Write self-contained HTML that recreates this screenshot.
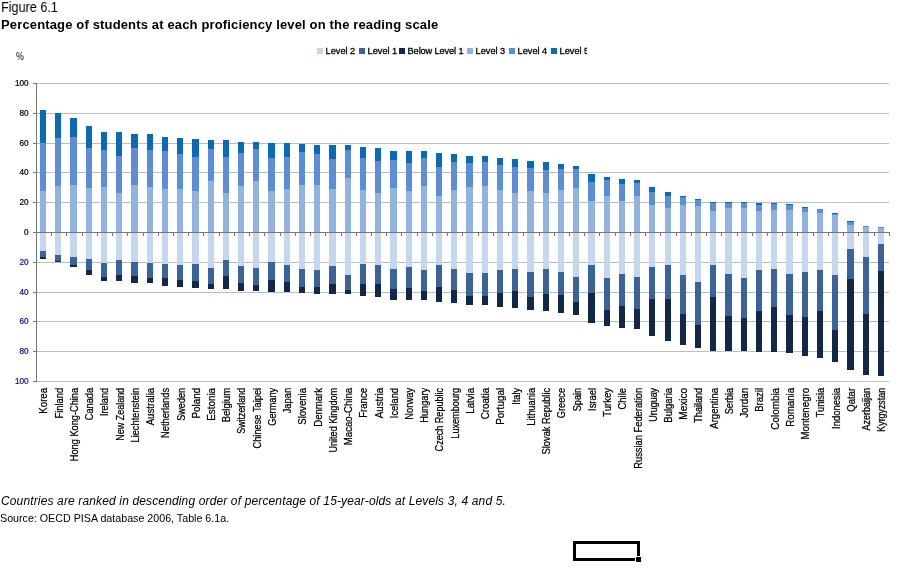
<!DOCTYPE html>
<html><head><meta charset="utf-8"><style>
html,body{margin:0;padding:0;background:#fff;}
body{width:897px;height:568px;position:relative;overflow:hidden;font-family:"Liberation Sans",sans-serif;color:#000;}
.t{position:absolute;white-space:nowrap;line-height:1;will-change:transform;}
svg{position:absolute;left:0;top:0;will-change:transform;}
svg text{font-family:"Liberation Sans",sans-serif;}
</style></head><body>
<div class="t" style="left:1.2px;top:0.4px;font-size:14.5px;transform:scaleX(0.87);transform-origin:0 0;">Figure 6.1</div>
<div class="t" style="left:1px;top:17.8px;font-size:13px;font-weight:bold;letter-spacing:0.15px;">Percentage of students at each proficiency level on the reading scale</div>
<div class="t" style="left:16px;top:52px;font-size:10px;transform:scaleX(0.85);transform-origin:0 0;">%</div>
<svg width="897" height="568" viewBox="0 0 897 568">
<rect x="36" y="83" width="853" height="1" fill="#BDBDBD"/>
<rect x="36" y="113" width="853" height="1" fill="#BDBDBD"/>
<rect x="36" y="143" width="853" height="1" fill="#BDBDBD"/>
<rect x="36" y="172" width="853" height="1" fill="#BDBDBD"/>
<rect x="36" y="202" width="853" height="1" fill="#BDBDBD"/>
<rect x="36" y="262" width="853" height="1" fill="#BDBDBD"/>
<rect x="36" y="292" width="853" height="1" fill="#BDBDBD"/>
<rect x="36" y="321" width="853" height="1" fill="#BDBDBD"/>
<rect x="36" y="351" width="853" height="1" fill="#BDBDBD"/>
<rect x="36" y="381" width="853" height="1" fill="#BDBDBD"/>
<rect x="33" y="83" width="3" height="1" fill="#767676"/>
<rect x="33" y="113" width="3" height="1" fill="#767676"/>
<rect x="33" y="143" width="3" height="1" fill="#767676"/>
<rect x="33" y="172" width="3" height="1" fill="#767676"/>
<rect x="33" y="202" width="3" height="1" fill="#767676"/>
<rect x="33" y="262" width="3" height="1" fill="#767676"/>
<rect x="33" y="292" width="3" height="1" fill="#767676"/>
<rect x="33" y="321" width="3" height="1" fill="#767676"/>
<rect x="33" y="351" width="3" height="1" fill="#767676"/>
<rect x="33" y="381" width="3" height="1" fill="#767676"/>
<rect x="33" y="232" width="3" height="1" fill="#767676"/>
<rect x="40" y="191" width="6" height="41" fill="#90B3E0"/>
<rect x="40" y="143" width="6" height="48" fill="#5B8ED6"/>
<rect x="40" y="110" width="6" height="33" fill="#0A6AB8"/>
<rect x="40" y="232" width="6" height="19" fill="#C5D7EF"/>
<rect x="40" y="251" width="6" height="6" fill="#3A6399"/>
<rect x="40" y="257" width="6" height="2" fill="#112848"/>
<rect x="55" y="186" width="6" height="46" fill="#90B3E0"/>
<rect x="55" y="138" width="6" height="48" fill="#5B8ED6"/>
<rect x="55" y="113" width="6" height="25" fill="#0A6AB8"/>
<rect x="55" y="232" width="6" height="23" fill="#C5D7EF"/>
<rect x="55" y="255" width="6" height="6" fill="#3A6399"/>
<rect x="55" y="261" width="6" height="1" fill="#112848"/>
<rect x="70" y="185" width="7" height="47" fill="#90B3E0"/>
<rect x="70" y="137" width="7" height="48" fill="#5B8ED6"/>
<rect x="70" y="118" width="7" height="19" fill="#0A6AB8"/>
<rect x="70" y="232" width="7" height="25" fill="#C5D7EF"/>
<rect x="70" y="257" width="7" height="8" fill="#3A6399"/>
<rect x="70" y="265" width="7" height="2" fill="#112848"/>
<rect x="86" y="188" width="6" height="44" fill="#90B3E0"/>
<rect x="86" y="148" width="6" height="40" fill="#5B8ED6"/>
<rect x="86" y="126" width="6" height="22" fill="#0A6AB8"/>
<rect x="86" y="232" width="6" height="27" fill="#C5D7EF"/>
<rect x="86" y="259" width="6" height="11" fill="#3A6399"/>
<rect x="86" y="270" width="6" height="5" fill="#112848"/>
<rect x="101" y="187" width="6" height="45" fill="#90B3E0"/>
<rect x="101" y="150" width="6" height="37" fill="#5B8ED6"/>
<rect x="101" y="132" width="6" height="18" fill="#0A6AB8"/>
<rect x="101" y="232" width="6" height="31" fill="#C5D7EF"/>
<rect x="101" y="263" width="6" height="14" fill="#3A6399"/>
<rect x="101" y="277" width="6" height="4" fill="#112848"/>
<rect x="116" y="193" width="6" height="39" fill="#90B3E0"/>
<rect x="116" y="156" width="6" height="37" fill="#5B8ED6"/>
<rect x="116" y="132" width="6" height="24" fill="#0A6AB8"/>
<rect x="116" y="232" width="6" height="28" fill="#C5D7EF"/>
<rect x="116" y="260" width="6" height="15" fill="#3A6399"/>
<rect x="116" y="275" width="6" height="6" fill="#112848"/>
<rect x="131" y="185" width="7" height="47" fill="#90B3E0"/>
<rect x="131" y="148" width="7" height="37" fill="#5B8ED6"/>
<rect x="131" y="134" width="7" height="14" fill="#0A6AB8"/>
<rect x="131" y="232" width="7" height="30" fill="#C5D7EF"/>
<rect x="131" y="262" width="7" height="14" fill="#3A6399"/>
<rect x="131" y="276" width="7" height="7" fill="#112848"/>
<rect x="147" y="187" width="6" height="45" fill="#90B3E0"/>
<rect x="147" y="150" width="6" height="37" fill="#5B8ED6"/>
<rect x="147" y="134" width="6" height="16" fill="#0A6AB8"/>
<rect x="147" y="232" width="6" height="31" fill="#C5D7EF"/>
<rect x="147" y="263" width="6" height="15" fill="#3A6399"/>
<rect x="147" y="278" width="6" height="5" fill="#112848"/>
<rect x="162" y="189" width="6" height="43" fill="#90B3E0"/>
<rect x="162" y="151" width="6" height="38" fill="#5B8ED6"/>
<rect x="162" y="137" width="6" height="14" fill="#0A6AB8"/>
<rect x="162" y="232" width="6" height="32" fill="#C5D7EF"/>
<rect x="162" y="264" width="6" height="14" fill="#3A6399"/>
<rect x="162" y="278" width="6" height="8" fill="#112848"/>
<rect x="177" y="189" width="6" height="43" fill="#90B3E0"/>
<rect x="177" y="154" width="6" height="35" fill="#5B8ED6"/>
<rect x="177" y="138" width="6" height="16" fill="#0A6AB8"/>
<rect x="177" y="232" width="6" height="33" fill="#C5D7EF"/>
<rect x="177" y="265" width="6" height="15" fill="#3A6399"/>
<rect x="177" y="280" width="6" height="7" fill="#112848"/>
<rect x="192" y="191" width="7" height="41" fill="#90B3E0"/>
<rect x="192" y="157" width="7" height="34" fill="#5B8ED6"/>
<rect x="192" y="139" width="7" height="18" fill="#0A6AB8"/>
<rect x="192" y="232" width="7" height="32" fill="#C5D7EF"/>
<rect x="192" y="264" width="7" height="17" fill="#3A6399"/>
<rect x="192" y="281" width="7" height="7" fill="#112848"/>
<rect x="208" y="181" width="6" height="51" fill="#90B3E0"/>
<rect x="208" y="149" width="6" height="32" fill="#5B8ED6"/>
<rect x="208" y="140" width="6" height="9" fill="#0A6AB8"/>
<rect x="208" y="232" width="6" height="36" fill="#C5D7EF"/>
<rect x="208" y="268" width="6" height="16" fill="#3A6399"/>
<rect x="208" y="284" width="6" height="5" fill="#112848"/>
<rect x="223" y="193" width="6" height="39" fill="#90B3E0"/>
<rect x="223" y="157" width="6" height="36" fill="#5B8ED6"/>
<rect x="223" y="140" width="6" height="17" fill="#0A6AB8"/>
<rect x="223" y="232" width="6" height="28" fill="#C5D7EF"/>
<rect x="223" y="260" width="6" height="16" fill="#3A6399"/>
<rect x="223" y="276" width="6" height="13" fill="#112848"/>
<rect x="238" y="186" width="6" height="46" fill="#90B3E0"/>
<rect x="238" y="153" width="6" height="33" fill="#5B8ED6"/>
<rect x="238" y="142" width="6" height="11" fill="#0A6AB8"/>
<rect x="238" y="232" width="6" height="34" fill="#C5D7EF"/>
<rect x="238" y="266" width="6" height="17" fill="#3A6399"/>
<rect x="238" y="283" width="6" height="8" fill="#112848"/>
<rect x="253" y="181" width="6" height="51" fill="#90B3E0"/>
<rect x="253" y="149" width="6" height="32" fill="#5B8ED6"/>
<rect x="253" y="142" width="6" height="7" fill="#0A6AB8"/>
<rect x="253" y="232" width="6" height="36" fill="#C5D7EF"/>
<rect x="253" y="268" width="6" height="17" fill="#3A6399"/>
<rect x="253" y="285" width="6" height="6" fill="#112848"/>
<rect x="268" y="191" width="7" height="41" fill="#90B3E0"/>
<rect x="268" y="158" width="7" height="33" fill="#5B8ED6"/>
<rect x="268" y="143" width="7" height="15" fill="#0A6AB8"/>
<rect x="268" y="232" width="7" height="30" fill="#C5D7EF"/>
<rect x="268" y="262" width="7" height="18" fill="#3A6399"/>
<rect x="268" y="280" width="7" height="12" fill="#112848"/>
<rect x="284" y="189" width="6" height="43" fill="#90B3E0"/>
<rect x="284" y="157" width="6" height="32" fill="#5B8ED6"/>
<rect x="284" y="143" width="6" height="14" fill="#0A6AB8"/>
<rect x="284" y="232" width="6" height="33" fill="#C5D7EF"/>
<rect x="284" y="265" width="6" height="17" fill="#3A6399"/>
<rect x="284" y="282" width="6" height="10" fill="#112848"/>
<rect x="299" y="185" width="6" height="47" fill="#90B3E0"/>
<rect x="299" y="152" width="6" height="33" fill="#5B8ED6"/>
<rect x="299" y="144" width="6" height="8" fill="#0A6AB8"/>
<rect x="299" y="232" width="6" height="37" fill="#C5D7EF"/>
<rect x="299" y="269" width="6" height="18" fill="#3A6399"/>
<rect x="299" y="287" width="6" height="6" fill="#112848"/>
<rect x="314" y="185" width="6" height="47" fill="#90B3E0"/>
<rect x="314" y="154" width="6" height="31" fill="#5B8ED6"/>
<rect x="314" y="145" width="6" height="9" fill="#0A6AB8"/>
<rect x="314" y="232" width="6" height="38" fill="#C5D7EF"/>
<rect x="314" y="270" width="6" height="17" fill="#3A6399"/>
<rect x="314" y="287" width="6" height="7" fill="#112848"/>
<rect x="329" y="189" width="7" height="43" fill="#90B3E0"/>
<rect x="329" y="159" width="7" height="30" fill="#5B8ED6"/>
<rect x="329" y="145" width="7" height="14" fill="#0A6AB8"/>
<rect x="329" y="232" width="7" height="34" fill="#C5D7EF"/>
<rect x="329" y="266" width="7" height="18" fill="#3A6399"/>
<rect x="329" y="284" width="7" height="10" fill="#112848"/>
<rect x="345" y="178" width="6" height="54" fill="#90B3E0"/>
<rect x="345" y="150" width="6" height="28" fill="#5B8ED6"/>
<rect x="345" y="145" width="6" height="5" fill="#0A6AB8"/>
<rect x="345" y="232" width="6" height="43" fill="#C5D7EF"/>
<rect x="345" y="275" width="6" height="15" fill="#3A6399"/>
<rect x="345" y="290" width="6" height="4" fill="#112848"/>
<rect x="360" y="190" width="6" height="42" fill="#90B3E0"/>
<rect x="360" y="158" width="6" height="32" fill="#5B8ED6"/>
<rect x="360" y="147" width="6" height="11" fill="#0A6AB8"/>
<rect x="360" y="232" width="6" height="32" fill="#C5D7EF"/>
<rect x="360" y="264" width="6" height="20" fill="#3A6399"/>
<rect x="360" y="284" width="6" height="12" fill="#112848"/>
<rect x="375" y="193" width="6" height="39" fill="#90B3E0"/>
<rect x="375" y="161" width="6" height="32" fill="#5B8ED6"/>
<rect x="375" y="148" width="6" height="13" fill="#0A6AB8"/>
<rect x="375" y="232" width="6" height="33" fill="#C5D7EF"/>
<rect x="375" y="265" width="6" height="19" fill="#3A6399"/>
<rect x="375" y="284" width="6" height="13" fill="#112848"/>
<rect x="390" y="188" width="7" height="44" fill="#90B3E0"/>
<rect x="390" y="160" width="7" height="28" fill="#5B8ED6"/>
<rect x="390" y="151" width="7" height="9" fill="#0A6AB8"/>
<rect x="390" y="232" width="7" height="37" fill="#C5D7EF"/>
<rect x="390" y="269" width="7" height="20" fill="#3A6399"/>
<rect x="390" y="289" width="7" height="11" fill="#112848"/>
<rect x="406" y="191" width="6" height="41" fill="#90B3E0"/>
<rect x="406" y="163" width="6" height="28" fill="#5B8ED6"/>
<rect x="406" y="151" width="6" height="12" fill="#0A6AB8"/>
<rect x="406" y="232" width="6" height="35" fill="#C5D7EF"/>
<rect x="406" y="267" width="6" height="21" fill="#3A6399"/>
<rect x="406" y="288" width="6" height="12" fill="#112848"/>
<rect x="421" y="186" width="6" height="46" fill="#90B3E0"/>
<rect x="421" y="158" width="6" height="28" fill="#5B8ED6"/>
<rect x="421" y="151" width="6" height="7" fill="#0A6AB8"/>
<rect x="421" y="232" width="6" height="38" fill="#C5D7EF"/>
<rect x="421" y="270" width="6" height="21" fill="#3A6399"/>
<rect x="421" y="291" width="6" height="9" fill="#112848"/>
<rect x="436" y="196" width="6" height="36" fill="#90B3E0"/>
<rect x="436" y="167" width="6" height="29" fill="#5B8ED6"/>
<rect x="436" y="153" width="6" height="14" fill="#0A6AB8"/>
<rect x="436" y="232" width="6" height="33" fill="#C5D7EF"/>
<rect x="436" y="265" width="6" height="22" fill="#3A6399"/>
<rect x="436" y="287" width="6" height="15" fill="#112848"/>
<rect x="451" y="190" width="6" height="42" fill="#90B3E0"/>
<rect x="451" y="162" width="6" height="28" fill="#5B8ED6"/>
<rect x="451" y="154" width="6" height="8" fill="#0A6AB8"/>
<rect x="451" y="232" width="6" height="37" fill="#C5D7EF"/>
<rect x="451" y="269" width="6" height="21" fill="#3A6399"/>
<rect x="451" y="290" width="6" height="13" fill="#112848"/>
<rect x="466" y="187" width="7" height="45" fill="#90B3E0"/>
<rect x="466" y="163" width="7" height="24" fill="#5B8ED6"/>
<rect x="466" y="156" width="7" height="7" fill="#0A6AB8"/>
<rect x="466" y="232" width="7" height="41" fill="#C5D7EF"/>
<rect x="466" y="273" width="7" height="23" fill="#3A6399"/>
<rect x="466" y="296" width="7" height="9" fill="#112848"/>
<rect x="482" y="186" width="6" height="46" fill="#90B3E0"/>
<rect x="482" y="162" width="6" height="24" fill="#5B8ED6"/>
<rect x="482" y="156" width="6" height="6" fill="#0A6AB8"/>
<rect x="482" y="232" width="6" height="41" fill="#C5D7EF"/>
<rect x="482" y="273" width="6" height="23" fill="#3A6399"/>
<rect x="482" y="296" width="6" height="9" fill="#112848"/>
<rect x="497" y="190" width="6" height="42" fill="#90B3E0"/>
<rect x="497" y="165" width="6" height="25" fill="#5B8ED6"/>
<rect x="497" y="158" width="6" height="7" fill="#0A6AB8"/>
<rect x="497" y="232" width="6" height="38" fill="#C5D7EF"/>
<rect x="497" y="270" width="6" height="23" fill="#3A6399"/>
<rect x="497" y="293" width="6" height="14" fill="#112848"/>
<rect x="512" y="193" width="6" height="39" fill="#90B3E0"/>
<rect x="512" y="167" width="6" height="26" fill="#5B8ED6"/>
<rect x="512" y="159" width="6" height="8" fill="#0A6AB8"/>
<rect x="512" y="232" width="6" height="37" fill="#C5D7EF"/>
<rect x="512" y="269" width="6" height="22" fill="#3A6399"/>
<rect x="512" y="291" width="6" height="17" fill="#112848"/>
<rect x="527" y="191" width="7" height="41" fill="#90B3E0"/>
<rect x="527" y="168" width="7" height="23" fill="#5B8ED6"/>
<rect x="527" y="161" width="7" height="7" fill="#0A6AB8"/>
<rect x="527" y="232" width="7" height="40" fill="#C5D7EF"/>
<rect x="527" y="272" width="7" height="25" fill="#3A6399"/>
<rect x="527" y="297" width="7" height="13" fill="#112848"/>
<rect x="543" y="193" width="6" height="39" fill="#90B3E0"/>
<rect x="543" y="170" width="6" height="23" fill="#5B8ED6"/>
<rect x="543" y="162" width="6" height="8" fill="#0A6AB8"/>
<rect x="543" y="232" width="6" height="37" fill="#C5D7EF"/>
<rect x="543" y="269" width="6" height="25" fill="#3A6399"/>
<rect x="543" y="294" width="6" height="17" fill="#112848"/>
<rect x="558" y="190" width="6" height="42" fill="#90B3E0"/>
<rect x="558" y="169" width="6" height="21" fill="#5B8ED6"/>
<rect x="558" y="164" width="6" height="5" fill="#0A6AB8"/>
<rect x="558" y="232" width="6" height="40" fill="#C5D7EF"/>
<rect x="558" y="272" width="6" height="23" fill="#3A6399"/>
<rect x="558" y="295" width="6" height="18" fill="#112848"/>
<rect x="573" y="188" width="6" height="44" fill="#90B3E0"/>
<rect x="573" y="169" width="6" height="19" fill="#5B8ED6"/>
<rect x="573" y="166" width="6" height="3" fill="#0A6AB8"/>
<rect x="573" y="232" width="6" height="45" fill="#C5D7EF"/>
<rect x="573" y="277" width="6" height="25" fill="#3A6399"/>
<rect x="573" y="302" width="6" height="13" fill="#112848"/>
<rect x="588" y="201" width="7" height="31" fill="#90B3E0"/>
<rect x="588" y="182" width="7" height="19" fill="#5B8ED6"/>
<rect x="588" y="174" width="7" height="8" fill="#0A6AB8"/>
<rect x="588" y="232" width="7" height="33" fill="#C5D7EF"/>
<rect x="588" y="265" width="7" height="28" fill="#3A6399"/>
<rect x="588" y="293" width="7" height="30" fill="#112848"/>
<rect x="604" y="196" width="6" height="36" fill="#90B3E0"/>
<rect x="604" y="180" width="6" height="16" fill="#5B8ED6"/>
<rect x="604" y="177" width="6" height="3" fill="#0A6AB8"/>
<rect x="604" y="232" width="6" height="46" fill="#C5D7EF"/>
<rect x="604" y="278" width="6" height="32" fill="#3A6399"/>
<rect x="604" y="310" width="6" height="16" fill="#112848"/>
<rect x="619" y="201" width="6" height="31" fill="#90B3E0"/>
<rect x="619" y="184" width="6" height="17" fill="#5B8ED6"/>
<rect x="619" y="179" width="6" height="5" fill="#0A6AB8"/>
<rect x="619" y="232" width="6" height="42" fill="#C5D7EF"/>
<rect x="619" y="274" width="6" height="32" fill="#3A6399"/>
<rect x="619" y="306" width="6" height="22" fill="#112848"/>
<rect x="634" y="196" width="6" height="36" fill="#90B3E0"/>
<rect x="634" y="183" width="6" height="13" fill="#5B8ED6"/>
<rect x="634" y="180" width="6" height="3" fill="#0A6AB8"/>
<rect x="634" y="232" width="6" height="45" fill="#C5D7EF"/>
<rect x="634" y="277" width="6" height="32" fill="#3A6399"/>
<rect x="634" y="309" width="6" height="20" fill="#112848"/>
<rect x="649" y="205" width="6" height="27" fill="#90B3E0"/>
<rect x="649" y="192" width="6" height="13" fill="#5B8ED6"/>
<rect x="649" y="187" width="6" height="5" fill="#0A6AB8"/>
<rect x="649" y="232" width="6" height="35" fill="#C5D7EF"/>
<rect x="649" y="267" width="6" height="32" fill="#3A6399"/>
<rect x="649" y="299" width="6" height="37" fill="#112848"/>
<rect x="665" y="208" width="6" height="24" fill="#90B3E0"/>
<rect x="665" y="196" width="6" height="12" fill="#5B8ED6"/>
<rect x="665" y="192" width="6" height="4" fill="#0A6AB8"/>
<rect x="665" y="232" width="6" height="33" fill="#C5D7EF"/>
<rect x="665" y="265" width="6" height="34" fill="#3A6399"/>
<rect x="665" y="299" width="6" height="42" fill="#112848"/>
<rect x="680" y="205" width="6" height="27" fill="#90B3E0"/>
<rect x="680" y="197" width="6" height="8" fill="#5B8ED6"/>
<rect x="680" y="196" width="6" height="1" fill="#0A6AB8"/>
<rect x="680" y="232" width="6" height="43" fill="#C5D7EF"/>
<rect x="680" y="275" width="6" height="39" fill="#3A6399"/>
<rect x="680" y="314" width="6" height="31" fill="#112848"/>
<rect x="695" y="206" width="6" height="26" fill="#90B3E0"/>
<rect x="695" y="200" width="6" height="6" fill="#5B8ED6"/>
<rect x="695" y="199" width="6" height="1" fill="#0A6AB8"/>
<rect x="695" y="232" width="6" height="50" fill="#C5D7EF"/>
<rect x="695" y="282" width="6" height="43" fill="#3A6399"/>
<rect x="695" y="325" width="6" height="23" fill="#112848"/>
<rect x="710" y="211" width="6" height="21" fill="#90B3E0"/>
<rect x="710" y="203" width="6" height="8" fill="#5B8ED6"/>
<rect x="710" y="202" width="6" height="1" fill="#0A6AB8"/>
<rect x="710" y="232" width="6" height="33" fill="#C5D7EF"/>
<rect x="710" y="265" width="6" height="32" fill="#3A6399"/>
<rect x="710" y="297" width="6" height="54" fill="#112848"/>
<rect x="725" y="208" width="7" height="24" fill="#90B3E0"/>
<rect x="725" y="203" width="7" height="5" fill="#5B8ED6"/>
<rect x="725" y="202" width="7" height="1" fill="#0A6AB8"/>
<rect x="725" y="232" width="7" height="42" fill="#C5D7EF"/>
<rect x="725" y="274" width="7" height="42" fill="#3A6399"/>
<rect x="725" y="316" width="7" height="35" fill="#112848"/>
<rect x="741" y="208" width="6" height="24" fill="#90B3E0"/>
<rect x="741" y="203" width="6" height="5" fill="#5B8ED6"/>
<rect x="741" y="202" width="6" height="1" fill="#0A6AB8"/>
<rect x="741" y="232" width="6" height="46" fill="#C5D7EF"/>
<rect x="741" y="278" width="6" height="40" fill="#3A6399"/>
<rect x="741" y="318" width="6" height="33" fill="#112848"/>
<rect x="756" y="211" width="6" height="21" fill="#90B3E0"/>
<rect x="756" y="205" width="6" height="6" fill="#5B8ED6"/>
<rect x="756" y="203" width="6" height="2" fill="#0A6AB8"/>
<rect x="756" y="232" width="6" height="38" fill="#C5D7EF"/>
<rect x="756" y="270" width="6" height="41" fill="#3A6399"/>
<rect x="756" y="311" width="6" height="41" fill="#112848"/>
<rect x="771" y="210" width="6" height="22" fill="#90B3E0"/>
<rect x="771" y="204" width="6" height="6" fill="#5B8ED6"/>
<rect x="771" y="203" width="6" height="1" fill="#0A6AB8"/>
<rect x="771" y="232" width="6" height="37" fill="#C5D7EF"/>
<rect x="771" y="269" width="6" height="38" fill="#3A6399"/>
<rect x="771" y="307" width="6" height="45" fill="#112848"/>
<rect x="786" y="210" width="7" height="22" fill="#90B3E0"/>
<rect x="786" y="205" width="7" height="5" fill="#5B8ED6"/>
<rect x="786" y="204" width="7" height="1" fill="#0A6AB8"/>
<rect x="786" y="232" width="7" height="42" fill="#C5D7EF"/>
<rect x="786" y="274" width="7" height="41" fill="#3A6399"/>
<rect x="786" y="315" width="7" height="38" fill="#112848"/>
<rect x="802" y="212" width="6" height="20" fill="#90B3E0"/>
<rect x="802" y="208" width="6" height="4" fill="#5B8ED6"/>
<rect x="802" y="207" width="6" height="1" fill="#0A6AB8"/>
<rect x="802" y="232" width="6" height="40" fill="#C5D7EF"/>
<rect x="802" y="272" width="6" height="45" fill="#3A6399"/>
<rect x="802" y="317" width="6" height="39" fill="#112848"/>
<rect x="817" y="213" width="6" height="19" fill="#90B3E0"/>
<rect x="817" y="209" width="6" height="4" fill="#5B8ED6"/>
<rect x="817" y="232" width="6" height="38" fill="#C5D7EF"/>
<rect x="817" y="270" width="6" height="41" fill="#3A6399"/>
<rect x="817" y="311" width="6" height="47" fill="#112848"/>
<rect x="832" y="215" width="6" height="17" fill="#90B3E0"/>
<rect x="832" y="214" width="6" height="1" fill="#5B8ED6"/>
<rect x="832" y="213" width="6" height="1" fill="#0A6AB8"/>
<rect x="832" y="232" width="6" height="43" fill="#C5D7EF"/>
<rect x="832" y="275" width="6" height="55" fill="#3A6399"/>
<rect x="832" y="330" width="6" height="32" fill="#112848"/>
<rect x="847" y="225" width="7" height="7" fill="#90B3E0"/>
<rect x="847" y="222" width="7" height="3" fill="#5B8ED6"/>
<rect x="847" y="221" width="7" height="1" fill="#0A6AB8"/>
<rect x="847" y="232" width="7" height="17" fill="#C5D7EF"/>
<rect x="847" y="249" width="7" height="30" fill="#3A6399"/>
<rect x="847" y="279" width="7" height="91" fill="#112848"/>
<rect x="863" y="227" width="6" height="5" fill="#90B3E0"/>
<rect x="863" y="226" width="6" height="1" fill="#5B8ED6"/>
<rect x="863" y="232" width="6" height="25" fill="#C5D7EF"/>
<rect x="863" y="257" width="6" height="57" fill="#3A6399"/>
<rect x="863" y="314" width="6" height="61" fill="#112848"/>
<rect x="878" y="228" width="6" height="4" fill="#90B3E0"/>
<rect x="878" y="227" width="6" height="1" fill="#5B8ED6"/>
<rect x="878" y="232" width="6" height="12" fill="#C5D7EF"/>
<rect x="878" y="244" width="6" height="27" fill="#3A6399"/>
<rect x="878" y="271" width="6" height="105" fill="#112848"/>
<rect x="36" y="83" width="1" height="299" fill="#767676"/>
<rect x="36" y="232" width="854" height="1" fill="#767676"/>
<rect x="51" y="233" width="1" height="3" fill="#767676"/>
<rect x="66" y="233" width="1" height="3" fill="#767676"/>
<rect x="82" y="233" width="1" height="3" fill="#767676"/>
<rect x="97" y="233" width="1" height="3" fill="#767676"/>
<rect x="112" y="233" width="1" height="3" fill="#767676"/>
<rect x="127" y="233" width="1" height="3" fill="#767676"/>
<rect x="143" y="233" width="1" height="3" fill="#767676"/>
<rect x="158" y="233" width="1" height="3" fill="#767676"/>
<rect x="173" y="233" width="1" height="3" fill="#767676"/>
<rect x="188" y="233" width="1" height="3" fill="#767676"/>
<rect x="203" y="233" width="1" height="3" fill="#767676"/>
<rect x="219" y="233" width="1" height="3" fill="#767676"/>
<rect x="234" y="233" width="1" height="3" fill="#767676"/>
<rect x="249" y="233" width="1" height="3" fill="#767676"/>
<rect x="264" y="233" width="1" height="3" fill="#767676"/>
<rect x="280" y="233" width="1" height="3" fill="#767676"/>
<rect x="295" y="233" width="1" height="3" fill="#767676"/>
<rect x="310" y="233" width="1" height="3" fill="#767676"/>
<rect x="325" y="233" width="1" height="3" fill="#767676"/>
<rect x="341" y="233" width="1" height="3" fill="#767676"/>
<rect x="356" y="233" width="1" height="3" fill="#767676"/>
<rect x="371" y="233" width="1" height="3" fill="#767676"/>
<rect x="386" y="233" width="1" height="3" fill="#767676"/>
<rect x="401" y="233" width="1" height="3" fill="#767676"/>
<rect x="417" y="233" width="1" height="3" fill="#767676"/>
<rect x="432" y="233" width="1" height="3" fill="#767676"/>
<rect x="447" y="233" width="1" height="3" fill="#767676"/>
<rect x="462" y="233" width="1" height="3" fill="#767676"/>
<rect x="478" y="233" width="1" height="3" fill="#767676"/>
<rect x="493" y="233" width="1" height="3" fill="#767676"/>
<rect x="508" y="233" width="1" height="3" fill="#767676"/>
<rect x="523" y="233" width="1" height="3" fill="#767676"/>
<rect x="539" y="233" width="1" height="3" fill="#767676"/>
<rect x="554" y="233" width="1" height="3" fill="#767676"/>
<rect x="569" y="233" width="1" height="3" fill="#767676"/>
<rect x="584" y="233" width="1" height="3" fill="#767676"/>
<rect x="599" y="233" width="1" height="3" fill="#767676"/>
<rect x="615" y="233" width="1" height="3" fill="#767676"/>
<rect x="630" y="233" width="1" height="3" fill="#767676"/>
<rect x="645" y="233" width="1" height="3" fill="#767676"/>
<rect x="660" y="233" width="1" height="3" fill="#767676"/>
<rect x="676" y="233" width="1" height="3" fill="#767676"/>
<rect x="691" y="233" width="1" height="3" fill="#767676"/>
<rect x="706" y="233" width="1" height="3" fill="#767676"/>
<rect x="721" y="233" width="1" height="3" fill="#767676"/>
<rect x="737" y="233" width="1" height="3" fill="#767676"/>
<rect x="752" y="233" width="1" height="3" fill="#767676"/>
<rect x="767" y="233" width="1" height="3" fill="#767676"/>
<rect x="782" y="233" width="1" height="3" fill="#767676"/>
<rect x="797" y="233" width="1" height="3" fill="#767676"/>
<rect x="813" y="233" width="1" height="3" fill="#767676"/>
<rect x="828" y="233" width="1" height="3" fill="#767676"/>
<rect x="843" y="233" width="1" height="3" fill="#767676"/>
<rect x="858" y="233" width="1" height="3" fill="#767676"/>
<rect x="874" y="233" width="1" height="3" fill="#767676"/>
<rect x="889" y="233" width="1" height="3" fill="#767676"/>
<text transform="translate(28.6,86) scale(0.88,1)" text-anchor="end" fill="#000" stroke="#000" stroke-width="0.25" font-size="9.3">100</text>
<text transform="translate(28.6,116) scale(0.88,1)" text-anchor="end" fill="#000" stroke="#000" stroke-width="0.25" font-size="9.3">80</text>
<text transform="translate(28.6,146) scale(0.88,1)" text-anchor="end" fill="#000" stroke="#000" stroke-width="0.25" font-size="9.3">60</text>
<text transform="translate(28.6,175) scale(0.88,1)" text-anchor="end" fill="#000" stroke="#000" stroke-width="0.25" font-size="9.3">40</text>
<text transform="translate(28.6,205) scale(0.88,1)" text-anchor="end" fill="#000" stroke="#000" stroke-width="0.25" font-size="9.3">20</text>
<text transform="translate(28.6,235) scale(0.88,1)" text-anchor="end" fill="#000" stroke="#000" stroke-width="0.25" font-size="9.3">0</text>
<text transform="translate(28.6,265) scale(0.88,1)" text-anchor="end" fill="#10107E" stroke="#10107E" stroke-width="0.25" font-size="9.3">20</text>
<text transform="translate(28.6,295) scale(0.88,1)" text-anchor="end" fill="#10107E" stroke="#10107E" stroke-width="0.25" font-size="9.3">40</text>
<text transform="translate(28.6,324) scale(0.88,1)" text-anchor="end" fill="#10107E" stroke="#10107E" stroke-width="0.25" font-size="9.3">60</text>
<text transform="translate(28.6,354) scale(0.88,1)" text-anchor="end" fill="#10107E" stroke="#10107E" stroke-width="0.25" font-size="9.3">80</text>
<text transform="translate(28.6,384) scale(0.88,1)" text-anchor="end" fill="#10107E" stroke="#10107E" stroke-width="0.25" font-size="9.3">100</text>
<text transform="translate(47.46,387.9) rotate(-90)" text-anchor="end" stroke="#000" stroke-width="0.25" font-size="10" textLength="25.8" lengthAdjust="spacingAndGlyphs">Korea</text>
<text transform="translate(62.69,387.9) rotate(-90)" text-anchor="end" stroke="#000" stroke-width="0.25" font-size="10" textLength="30.6" lengthAdjust="spacingAndGlyphs">Finland</text>
<text transform="translate(77.92,387.9) rotate(-90)" text-anchor="end" stroke="#000" stroke-width="0.25" font-size="10" textLength="73.3" lengthAdjust="spacingAndGlyphs">Hong Kong-China</text>
<text transform="translate(93.15,387.9) rotate(-90)" text-anchor="end" stroke="#000" stroke-width="0.25" font-size="10" textLength="32.4" lengthAdjust="spacingAndGlyphs">Canada</text>
<text transform="translate(108.38,387.9) rotate(-90)" text-anchor="end" stroke="#000" stroke-width="0.25" font-size="10" textLength="28.1" lengthAdjust="spacingAndGlyphs">Ireland</text>
<text transform="translate(123.62,387.9) rotate(-90)" text-anchor="end" stroke="#000" stroke-width="0.25" font-size="10" textLength="52.8" lengthAdjust="spacingAndGlyphs">New Zealand</text>
<text transform="translate(138.85,387.9) rotate(-90)" text-anchor="end" stroke="#000" stroke-width="0.25" font-size="10" textLength="54.6" lengthAdjust="spacingAndGlyphs">Liechtenstein</text>
<text transform="translate(154.08,387.9) rotate(-90)" text-anchor="end" stroke="#000" stroke-width="0.25" font-size="10" textLength="37.4" lengthAdjust="spacingAndGlyphs">Australia</text>
<text transform="translate(169.31,387.9) rotate(-90)" text-anchor="end" stroke="#000" stroke-width="0.25" font-size="10" textLength="50.1" lengthAdjust="spacingAndGlyphs">Netherlands</text>
<text transform="translate(184.54,387.9) rotate(-90)" text-anchor="end" stroke="#000" stroke-width="0.25" font-size="10" textLength="32.9" lengthAdjust="spacingAndGlyphs">Sweden</text>
<text transform="translate(199.78,387.9) rotate(-90)" text-anchor="end" stroke="#000" stroke-width="0.25" font-size="10" textLength="30.6" lengthAdjust="spacingAndGlyphs">Poland</text>
<text transform="translate(215.01,387.9) rotate(-90)" text-anchor="end" stroke="#000" stroke-width="0.25" font-size="10" textLength="32.9" lengthAdjust="spacingAndGlyphs">Estonia</text>
<text transform="translate(230.24,387.9) rotate(-90)" text-anchor="end" stroke="#000" stroke-width="0.25" font-size="10" textLength="34.4" lengthAdjust="spacingAndGlyphs">Belgium</text>
<text transform="translate(245.47,387.9) rotate(-90)" text-anchor="end" stroke="#000" stroke-width="0.25" font-size="10" textLength="45.9" lengthAdjust="spacingAndGlyphs">Switzerland</text>
<text transform="translate(260.70,387.9) rotate(-90)" text-anchor="end" stroke="#000" stroke-width="0.25" font-size="10" textLength="60.6" lengthAdjust="spacingAndGlyphs">Chinese Taipei</text>
<text transform="translate(275.94,387.9) rotate(-90)" text-anchor="end" stroke="#000" stroke-width="0.25" font-size="10" textLength="37.8" lengthAdjust="spacingAndGlyphs">Germany</text>
<text transform="translate(291.17,387.9) rotate(-90)" text-anchor="end" stroke="#000" stroke-width="0.25" font-size="10" textLength="25.4" lengthAdjust="spacingAndGlyphs">Japan</text>
<text transform="translate(306.40,387.9) rotate(-90)" text-anchor="end" stroke="#000" stroke-width="0.25" font-size="10" textLength="36.9" lengthAdjust="spacingAndGlyphs">Slovenia</text>
<text transform="translate(321.63,387.9) rotate(-90)" text-anchor="end" stroke="#000" stroke-width="0.25" font-size="10" textLength="38.9" lengthAdjust="spacingAndGlyphs">Denmark</text>
<text transform="translate(336.86,387.9) rotate(-90)" text-anchor="end" stroke="#000" stroke-width="0.25" font-size="10" textLength="64.7" lengthAdjust="spacingAndGlyphs">United Kingdom</text>
<text transform="translate(352.10,387.9) rotate(-90)" text-anchor="end" stroke="#000" stroke-width="0.25" font-size="10" textLength="57.3" lengthAdjust="spacingAndGlyphs">Macao-China</text>
<text transform="translate(367.33,387.9) rotate(-90)" text-anchor="end" stroke="#000" stroke-width="0.25" font-size="10" textLength="29.9" lengthAdjust="spacingAndGlyphs">France</text>
<text transform="translate(382.56,387.9) rotate(-90)" text-anchor="end" stroke="#000" stroke-width="0.25" font-size="10" textLength="30.3" lengthAdjust="spacingAndGlyphs">Austria</text>
<text transform="translate(397.79,387.9) rotate(-90)" text-anchor="end" stroke="#000" stroke-width="0.25" font-size="10" textLength="30.3" lengthAdjust="spacingAndGlyphs">Iceland</text>
<text transform="translate(413.02,387.9) rotate(-90)" text-anchor="end" stroke="#000" stroke-width="0.25" font-size="10" textLength="31.8" lengthAdjust="spacingAndGlyphs">Norway</text>
<text transform="translate(428.26,387.9) rotate(-90)" text-anchor="end" stroke="#000" stroke-width="0.25" font-size="10" textLength="34.8" lengthAdjust="spacingAndGlyphs">Hungary</text>
<text transform="translate(443.49,387.9) rotate(-90)" text-anchor="end" stroke="#000" stroke-width="0.25" font-size="10" textLength="63.5" lengthAdjust="spacingAndGlyphs">Czech Republic</text>
<text transform="translate(458.72,387.9) rotate(-90)" text-anchor="end" stroke="#000" stroke-width="0.25" font-size="10" textLength="50.8" lengthAdjust="spacingAndGlyphs">Luxembourg</text>
<text transform="translate(473.95,387.9) rotate(-90)" text-anchor="end" stroke="#000" stroke-width="0.25" font-size="10" textLength="25.8" lengthAdjust="spacingAndGlyphs">Latvia</text>
<text transform="translate(489.18,387.9) rotate(-90)" text-anchor="end" stroke="#000" stroke-width="0.25" font-size="10" textLength="31.4" lengthAdjust="spacingAndGlyphs">Croatia</text>
<text transform="translate(504.42,387.9) rotate(-90)" text-anchor="end" stroke="#000" stroke-width="0.25" font-size="10" textLength="36.9" lengthAdjust="spacingAndGlyphs">Portugal</text>
<text transform="translate(519.65,387.9) rotate(-90)" text-anchor="end" stroke="#000" stroke-width="0.25" font-size="10" textLength="16.9" lengthAdjust="spacingAndGlyphs">Italy</text>
<text transform="translate(534.88,387.9) rotate(-90)" text-anchor="end" stroke="#000" stroke-width="0.25" font-size="10" textLength="37.8" lengthAdjust="spacingAndGlyphs">Lithuania</text>
<text transform="translate(550.11,387.9) rotate(-90)" text-anchor="end" stroke="#000" stroke-width="0.25" font-size="10" textLength="66.5" lengthAdjust="spacingAndGlyphs">Slovak Republic</text>
<text transform="translate(565.34,387.9) rotate(-90)" text-anchor="end" stroke="#000" stroke-width="0.25" font-size="10" textLength="30.3" lengthAdjust="spacingAndGlyphs">Greece</text>
<text transform="translate(580.58,387.9) rotate(-90)" text-anchor="end" stroke="#000" stroke-width="0.25" font-size="10" textLength="23.4" lengthAdjust="spacingAndGlyphs">Spain</text>
<text transform="translate(595.81,387.9) rotate(-90)" text-anchor="end" stroke="#000" stroke-width="0.25" font-size="10" textLength="23.1" lengthAdjust="spacingAndGlyphs">Israel</text>
<text transform="translate(611.04,387.9) rotate(-90)" text-anchor="end" stroke="#000" stroke-width="0.25" font-size="10" textLength="28.8" lengthAdjust="spacingAndGlyphs">Turkey</text>
<text transform="translate(626.27,387.9) rotate(-90)" text-anchor="end" stroke="#000" stroke-width="0.25" font-size="10" textLength="21.6" lengthAdjust="spacingAndGlyphs">Chile</text>
<text transform="translate(641.50,387.9) rotate(-90)" text-anchor="end" stroke="#000" stroke-width="0.25" font-size="10" textLength="80.8" lengthAdjust="spacingAndGlyphs">Russian Federation</text>
<text transform="translate(656.74,387.9) rotate(-90)" text-anchor="end" stroke="#000" stroke-width="0.25" font-size="10" textLength="33.9" lengthAdjust="spacingAndGlyphs">Uruguay</text>
<text transform="translate(671.97,387.9) rotate(-90)" text-anchor="end" stroke="#000" stroke-width="0.25" font-size="10" textLength="34.8" lengthAdjust="spacingAndGlyphs">Bulgaria</text>
<text transform="translate(687.20,387.9) rotate(-90)" text-anchor="end" stroke="#000" stroke-width="0.25" font-size="10" textLength="31.8" lengthAdjust="spacingAndGlyphs">Mexico</text>
<text transform="translate(702.43,387.9) rotate(-90)" text-anchor="end" stroke="#000" stroke-width="0.25" font-size="10" textLength="34.8" lengthAdjust="spacingAndGlyphs">Thailand</text>
<text transform="translate(717.66,387.9) rotate(-90)" text-anchor="end" stroke="#000" stroke-width="0.25" font-size="10" textLength="40.8" lengthAdjust="spacingAndGlyphs">Argentina</text>
<text transform="translate(732.90,387.9) rotate(-90)" text-anchor="end" stroke="#000" stroke-width="0.25" font-size="10" textLength="26.4" lengthAdjust="spacingAndGlyphs">Serbia</text>
<text transform="translate(748.13,387.9) rotate(-90)" text-anchor="end" stroke="#000" stroke-width="0.25" font-size="10" textLength="29.9" lengthAdjust="spacingAndGlyphs">Jordan</text>
<text transform="translate(763.36,387.9) rotate(-90)" text-anchor="end" stroke="#000" stroke-width="0.25" font-size="10" textLength="23.9" lengthAdjust="spacingAndGlyphs">Brazil</text>
<text transform="translate(778.59,387.9) rotate(-90)" text-anchor="end" stroke="#000" stroke-width="0.25" font-size="10" textLength="41.8" lengthAdjust="spacingAndGlyphs">Colombia</text>
<text transform="translate(793.82,387.9) rotate(-90)" text-anchor="end" stroke="#000" stroke-width="0.25" font-size="10" textLength="38.9" lengthAdjust="spacingAndGlyphs">Romania</text>
<text transform="translate(809.06,387.9) rotate(-90)" text-anchor="end" stroke="#000" stroke-width="0.25" font-size="10" textLength="51.6" lengthAdjust="spacingAndGlyphs">Montenegro</text>
<text transform="translate(824.29,387.9) rotate(-90)" text-anchor="end" stroke="#000" stroke-width="0.25" font-size="10" textLength="29.4" lengthAdjust="spacingAndGlyphs">Tunisia</text>
<text transform="translate(839.52,387.9) rotate(-90)" text-anchor="end" stroke="#000" stroke-width="0.25" font-size="10" textLength="41.1" lengthAdjust="spacingAndGlyphs">Indonesia</text>
<text transform="translate(854.75,387.9) rotate(-90)" text-anchor="end" stroke="#000" stroke-width="0.25" font-size="10" textLength="23.9" lengthAdjust="spacingAndGlyphs">Qatar</text>
<text transform="translate(869.98,387.9) rotate(-90)" text-anchor="end" stroke="#000" stroke-width="0.25" font-size="10" textLength="42.6" lengthAdjust="spacingAndGlyphs">Azerbaijan</text>
<text transform="translate(885.22,387.9) rotate(-90)" text-anchor="end" stroke="#000" stroke-width="0.25" font-size="10" textLength="43.8" lengthAdjust="spacingAndGlyphs">Kyrgyzstan</text>
<svg x="0" y="0" width="587" height="100" overflow="hidden">
<rect x="317" y="48" width="6" height="6" fill="#C5D7EF"/>
<text x="325.6" y="54.2" font-size="9.2" stroke="#000" stroke-width="0.3">Level 2</text>
<rect x="359" y="48" width="6" height="6" fill="#3A6399"/>
<text x="367.6" y="54.2" font-size="9.2" stroke="#000" stroke-width="0.3">Level 1</text>
<rect x="399" y="48" width="6" height="6" fill="#112848"/>
<text x="407.6" y="54.2" font-size="9.2" stroke="#000" stroke-width="0.3" letter-spacing="-0.1">Below Level 1</text>
<rect x="467" y="48" width="6" height="6" fill="#90B3E0"/>
<text x="475.6" y="54.2" font-size="9.2" stroke="#000" stroke-width="0.3">Level 3</text>
<rect x="509" y="48" width="6" height="6" fill="#5B8ED6"/>
<text x="517.6" y="54.2" font-size="9.2" stroke="#000" stroke-width="0.3">Level 4</text>
<rect x="551" y="48" width="6" height="6" fill="#0A6AB8"/>
<text x="559.6" y="54.2" font-size="9.2" stroke="#000" stroke-width="0.3">Level 5</text>
</svg>
</svg>
<div class="t" style="left:1px;top:494.5px;font-size:12px;font-style:italic;letter-spacing:0.14px;">Countries are ranked in descending order of percentage of 15-year-olds at Levels 3, 4 and 5.</div>
<div class="t" style="left:0px;top:512.5px;font-size:10.7px;">Source: OECD PISA database 2006, Table 6.1a.</div>
<div style="position:absolute;left:573px;top:541px;width:67px;height:3px;background:#000;"></div>
<div style="position:absolute;left:573px;top:541px;width:3px;height:20px;background:#000;"></div>
<div style="position:absolute;left:573px;top:558px;width:62px;height:3px;background:#000;"></div>
<div style="position:absolute;left:637px;top:541px;width:3px;height:15px;background:#000;"></div>
<div style="position:absolute;left:636px;top:557px;width:5px;height:5px;background:#000;"></div>
</body></html>
